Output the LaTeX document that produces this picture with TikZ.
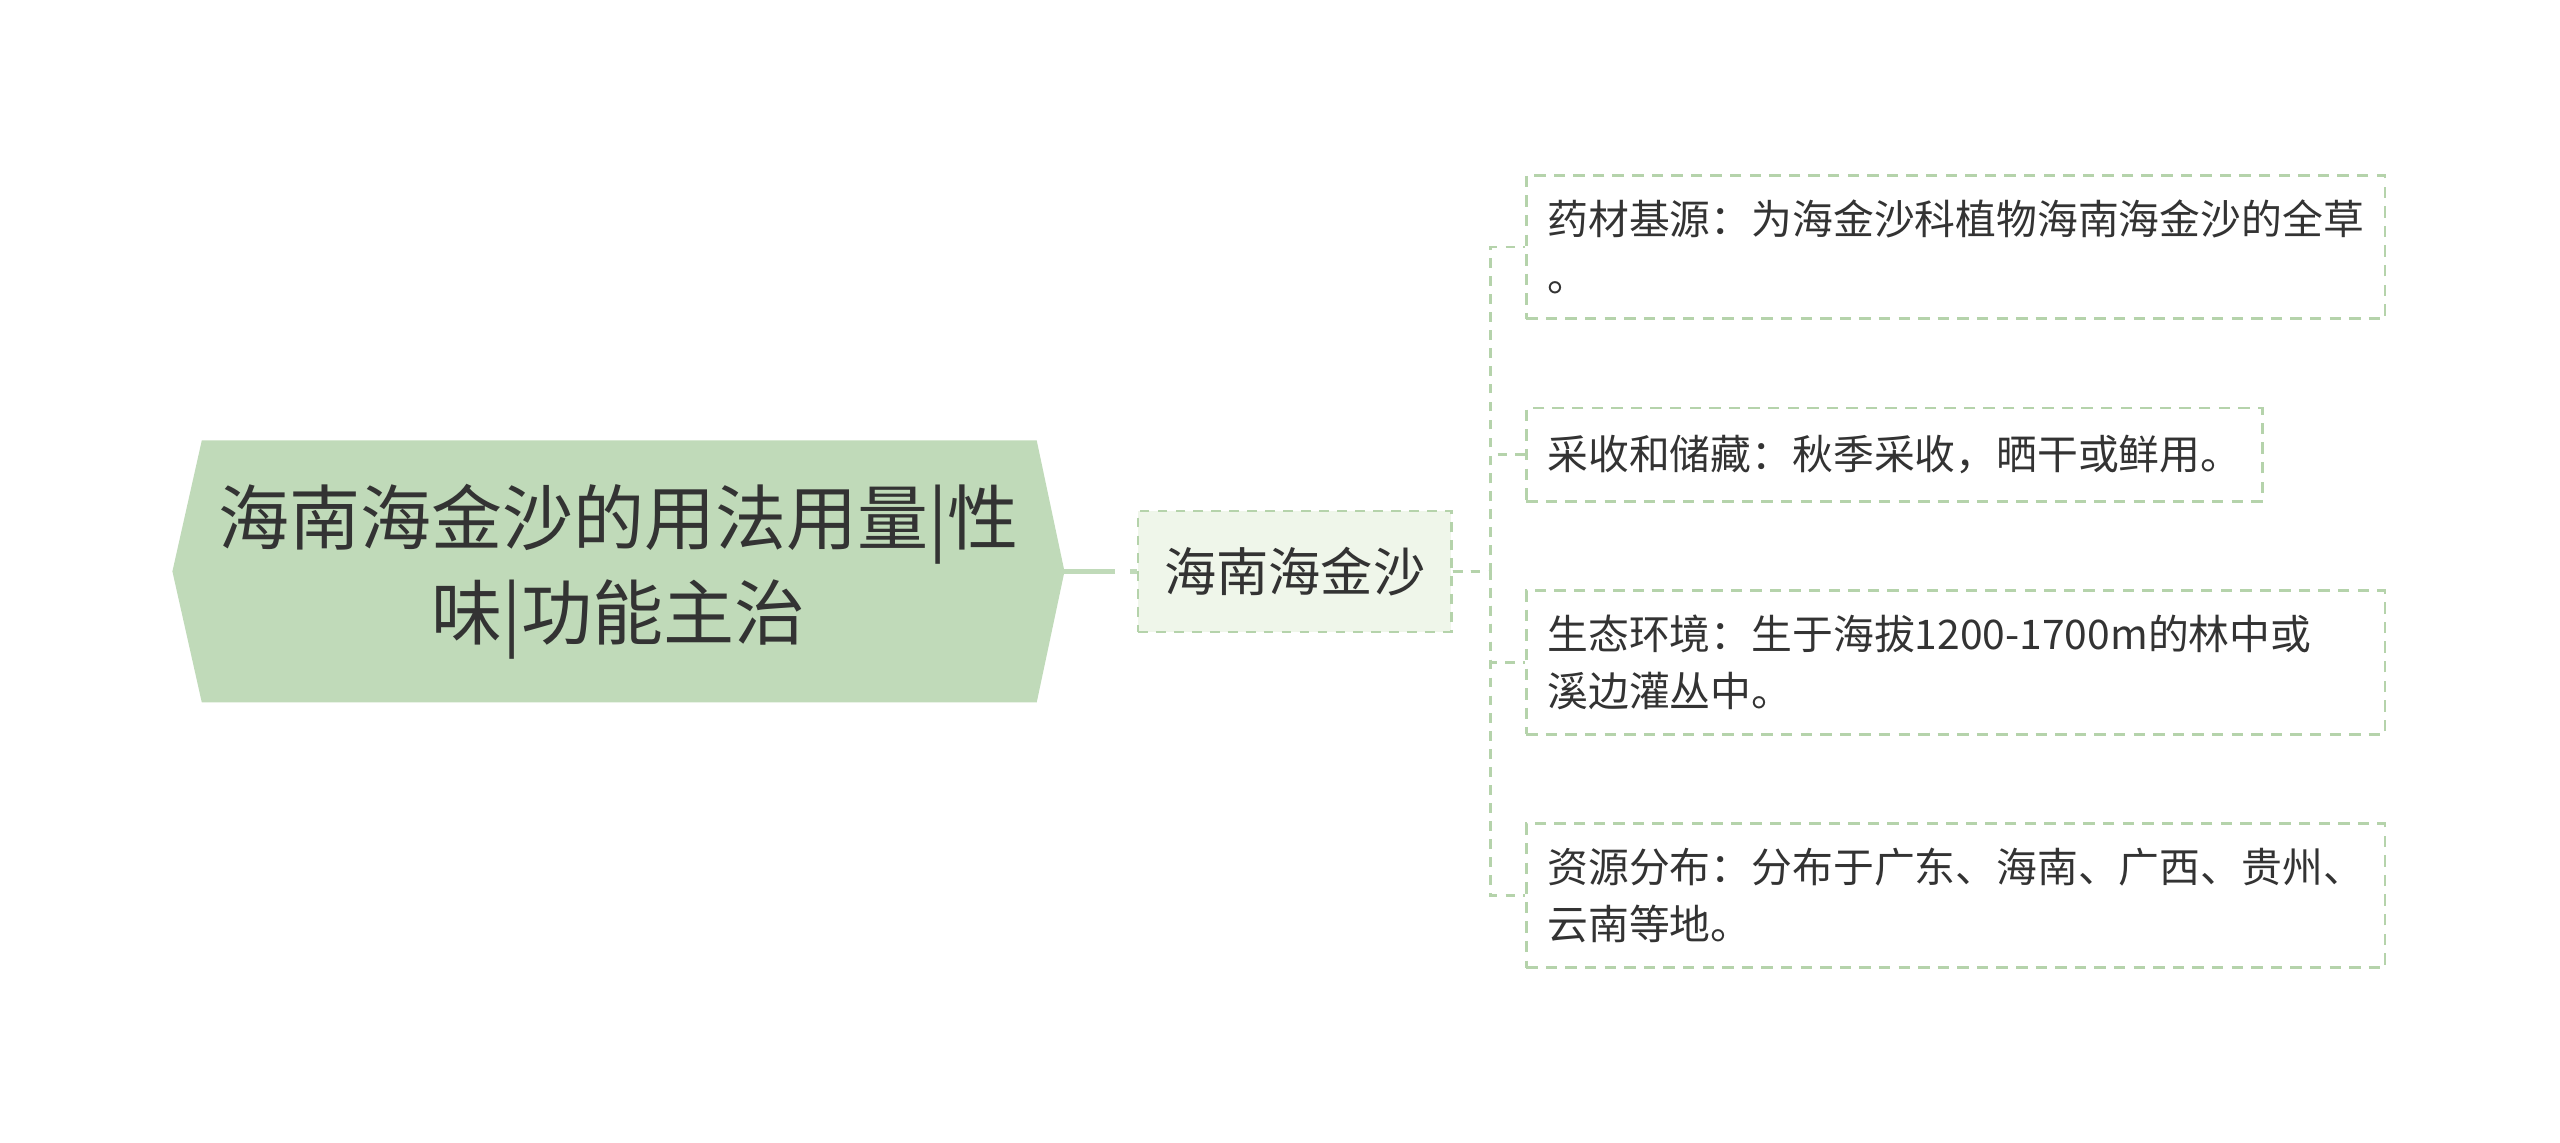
\documentclass[tikz,border=0pt]{standalone}
\usepackage{fontspec}
\usepackage{tikz-qtree}
\usetikzlibrary{backgrounds}
\setmainfont{Noto Sans CJK SC}
\definecolor{rootgreen}{HTML}{C0DAB9}
\definecolor{topicfill}{HTML}{EFF6EA}
\definecolor{linegreen}{HTML}{B5D3AB}
\definecolor{inkgray}{HTML}{333333}

\begin{document}
\begin{tikzpicture}[x=1pt,y=1pt]
  \tikzset{grow'=right,level distance=141pt,sibling distance=53pt,
    every tree node/.style={text=inkgray},
    edge from parent/.style={draw,draw=linegreen,line width=1.6pt,dash pattern=on 6pt off 5pt,
      edge from parent path={(\tikzparentnode.east) -- ++(23pt,0) |- (\tikzchildnode.west)}},
    hexa/.style={anchor=east,align=center,inner sep=0pt,minimum width=546pt,minimum height=160pt,
      font=\fontsize{43.5pt}{58pt}\selectfont},
    topic/.style={anchor=center,draw=linegreen,fill=topicfill,line width=1.6pt,dash pattern=on 6pt off 5pt,
      minimum width=192pt,minimum height=74pt,inner sep=0pt,font=\fontsize{32pt}{40pt}\selectfont},
    leaf/.style={anchor=west,align=left,draw=linegreen,line width=1.7pt,dash pattern=on 7pt off 5pt,
      inner xsep=13pt,inner ysep=15pt,minimum height=57pt,font=\fontsize{25pt}{35pt}\selectfont}}
  \Tree [.\node[hexa] (root) {海南海金沙的用法用量|性\\味|功能主治};
          \edge[draw=rootgreen,line width=3pt,dash pattern=on 31pt off 9pt];
          [.\node[topic] (herb) {海南海金沙};
             \node[leaf,text width=500pt] (source) {药材基源：为海金沙科植物海南海金沙的全草\\。};
             \node[leaf,text width=425pt] (harvest) {采收和储藏：秋季采收，晒干或鲜用。};
             \node[leaf,text width=500pt] (habitat) {生态环境：生于海拔1200-1700m的林中或\\溪边灌丛中。};
             \node[leaf,text width=500pt] (range) {资源分布：分布于广东、海南、广西、贵州、\\云南等地。};
          ] ]
  \begin{scope}[on background layer]
    \fill[rootgreen] ([xshift=18pt]root.north west) -- ([xshift=-17pt]root.north east) -- (root.east)
      -- ([xshift=-17pt]root.south east) -- ([xshift=18pt]root.south west) -- (root.west) -- cycle;
  \end{scope}
  \useasboundingbox ([xshift=-652pt,yshift=-350pt]root.east) rectangle ([xshift=916pt,yshift=350pt]root.east);
\end{tikzpicture}
\end{document}
